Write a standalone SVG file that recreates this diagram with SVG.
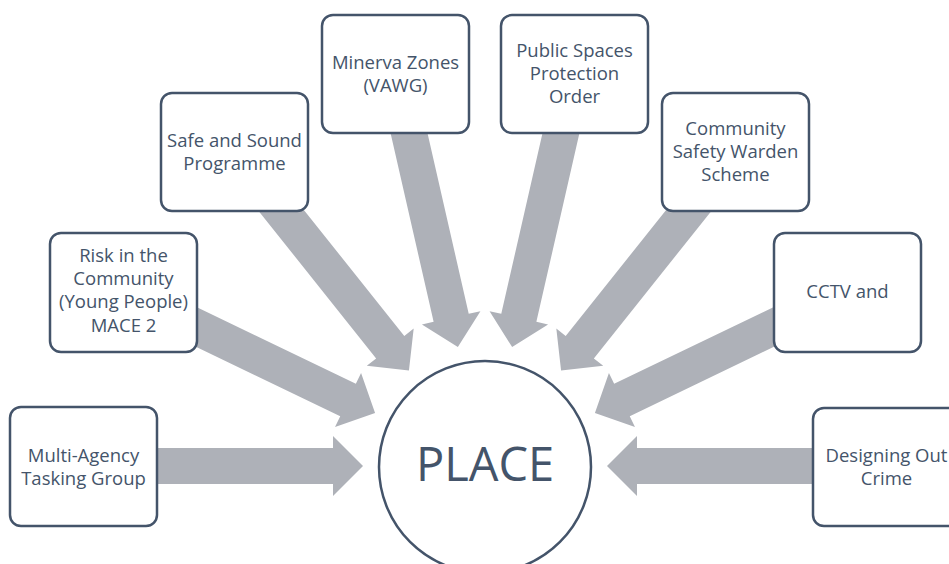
<svg xmlns="http://www.w3.org/2000/svg" xmlns:xlink="http://www.w3.org/1999/xlink" width="949" height="564" viewBox="0 0 949 564">
<style>
.box{fill:#fff;stroke:#44546A;stroke-width:2.5}
.lbl{font-family:"Open Sans","Noto Sans",sans-serif;font-size:18.5px;fill:#44546A;text-anchor:middle}
.big{font-family:"Open Sans","Noto Sans",sans-serif;font-size:47px;fill:#44546A;text-anchor:middle}
.arr{fill:#AEB1B8}
</style>
<defs>
<polygon id="arrow" class="arr" points="83,448 333,448 333,436 363,466 333,496 333,484 83,484"/>
</defs>
<rect width="949" height="564" fill="#fff"/>
<g id="connectors">
<use xlink:href="#arrow" href="#arrow"/>
<use xlink:href="#arrow" href="#arrow" transform="rotate(25.714 485 466)"/>
<use xlink:href="#arrow" href="#arrow" transform="rotate(51.429 485 466)"/>
<use xlink:href="#arrow" href="#arrow" transform="rotate(77.143 485 466)"/>
<use xlink:href="#arrow" href="#arrow" transform="rotate(102.857 485 466)"/>
<use xlink:href="#arrow" href="#arrow" transform="rotate(128.571 485 466)"/>
<use xlink:href="#arrow" href="#arrow" transform="rotate(154.286 485 466)"/>
<use xlink:href="#arrow" href="#arrow" transform="rotate(180 485 466)"/>
</g>
<g id="place">
<circle cx="485" cy="467" r="106" class="box"/>
<text x="485" y="481" class="big">PLACE</text>
</g>
<g id="n-multi-agency">
<rect x="10" y="407" width="147" height="119" rx="11" class="box"/>
<text class="lbl"><tspan x="83.5" y="462">Multi-Agency</tspan><tspan x="83.5" y="485">Tasking Group</tspan></text>
</g>
<g id="n-risk">
<rect x="50" y="233" width="147" height="119" rx="11" class="box"/>
<text class="lbl"><tspan x="123.5" y="262">Risk in the</tspan><tspan x="123.5" y="285.2">Community</tspan><tspan x="123.5" y="308.4">(Young People)</tspan><tspan x="123.5" y="331.6">MACE 2</tspan></text>
</g>
<g id="n-safe-sound">
<rect x="161" y="93" width="147" height="118" rx="11" class="box"/>
<text class="lbl"><tspan x="234.5" y="147">Safe and Sound</tspan><tspan x="234.5" y="170">Programme</tspan></text>
</g>
<g id="n-minerva">
<rect x="322" y="15" width="147" height="118" rx="11" class="box"/>
<text class="lbl"><tspan x="395.5" y="69">Minerva Zones</tspan><tspan x="395.5" y="92">(VAWG)</tspan></text>
</g>
<g id="n-pspo">
<rect x="501" y="15" width="147" height="118" rx="11" class="box"/>
<text class="lbl"><tspan x="574.5" y="57">Public Spaces</tspan><tspan x="574.5" y="80">Protection</tspan><tspan x="574.5" y="103">Order</tspan></text>
</g>
<g id="n-warden">
<rect x="662" y="93" width="147" height="118" rx="11" class="box"/>
<text class="lbl"><tspan x="735.5" y="135">Community</tspan><tspan x="735.5" y="158">Safety Warden</tspan><tspan x="735.5" y="181">Scheme</tspan></text>
</g>
<g id="n-cctv">
<rect x="774" y="233" width="147" height="119" rx="11" class="box"/>
<text x="847.5" y="298" class="lbl">CCTV and</text>
</g>
<g id="n-designing">
<rect x="813" y="408" width="147" height="118" rx="11" class="box"/>
<text class="lbl"><tspan x="886.5" y="462">Designing Out</tspan><tspan x="886.5" y="485">Crime</tspan></text>
</g>
</svg>
